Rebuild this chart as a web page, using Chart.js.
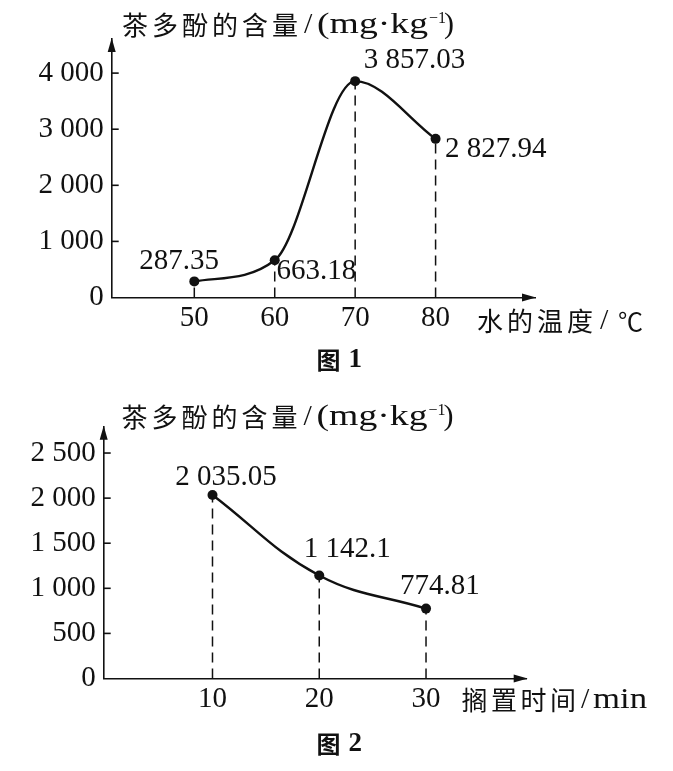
<!DOCTYPE html>
<html>
<head>
<meta charset="utf-8">
<script src="https://cdn.jsdelivr.net/npm/chart.js@4.4.1/dist/chart.umd.min.js"></script>
<style>
html,body{margin:0;padding:0;background:#fff;}
#wrap{position:relative;width:673px;height:771px;overflow:hidden;background:#fff;}
canvas{position:absolute;left:0;}
#c1{top:0;}
#c2{top:385px;}
</style>
</head>
<body>
<div id="wrap">
<canvas id="c1" width="673" height="385"></canvas>
<canvas id="c2" width="673" height="386"></canvas>
</div>
<script>
// ---------- data ----------
const temperatures = [50, 60, 70, 80];
const content1 = [287.35, 663.18, 3857.03, 2827.94];
const times = [10, 20, 30];
const content2 = [2035.05, 1142.1, 774.81];
const yTicks1 = [0, 1000, 2000, 3000, 4000];
const yTicks2 = [0, 500, 1000, 1500, 2000, 2500];
const xTicks1 = [50, 60, 70, 80];
const xTicks2 = [10, 20, 30];
const yTitleCJK = '茶多酚的含量';
const yTitleUnit = '(mg·kg';
const yTitleSup = '−1';
const xTitle1CJK = '水的温度';
const xTitle1Unit = '℃';
const xTitle2CJK = '搁置时间';
const xTitle2Unit = 'min';
const caption1 = ['图', '1'];
const caption2 = ['图', '2'];

// ---------- style ----------
const INK = '#111111';
const SERIF = '"Liberation Serif", "Times New Roman", serif';
const CJK = '"Noto Sans CJK SC", "Noto Sans CJK JP", sans-serif';

function fmt(v) {
  const s = String(v);
  const parts = s.split('.');
  const g = parts[0].replace(/\B(?=(\d{3})+(?!\d))/g, ' ');
  return parts.length > 1 ? g + '.' + parts[1] : g;
}

function drawChars(ctx, text, x, yc, pitch, size, weight) {
  ctx.font = (weight || '') + ' ' + size + 'px ' + CJK;
  ctx.textAlign = 'left';
  ctx.textBaseline = 'middle';
  Array.from(text).forEach((ch, i) => ctx.fillText(ch, x + i * pitch, yc));
}

function drawStretched(ctx, text, x, yc, width, font) {
  ctx.font = font;
  ctx.textAlign = 'left';
  ctx.textBaseline = 'middle';
  const w = ctx.measureText(text).width;
  ctx.save();
  ctx.translate(x, yc);
  ctx.scale(width / w, 1);
  ctx.fillText(text, 0, 0);
  ctx.restore();
}

const decor = {
  id: 'decor',
  beforeDatasetsDraw(chart, args, o) {
    const ctx = chart.ctx, a = chart.chartArea, x = chart.scales.x, y = chart.scales.y;
    ctx.save();
    ctx.strokeStyle = INK;
    ctx.lineWidth = 1.5;
    ctx.setLineDash([10, 6]);
    chart.data.datasets[0].data.forEach(p => {
      const px = x.getPixelForValue(p.x), py = y.getPixelForValue(p.y);
      ctx.beginPath();
      ctx.moveTo(px, a.bottom);
      ctx.lineTo(px, py);
      ctx.stroke();
    });
    ctx.restore();
  },
  afterDraw(chart, args, o) {
    const ctx = chart.ctx, a = chart.chartArea, x = chart.scales.x, y = chart.scales.y;
    ctx.save();
    ctx.fillStyle = INK;
    ctx.strokeStyle = INK;
    // arrow heads
    ctx.beginPath();
    ctx.moveTo(a.left, a.top - 1);
    ctx.lineTo(a.left - 4, a.top + 13);
    ctx.lineTo(a.left + 4, a.top + 13);
    ctx.closePath();
    ctx.fill();
    ctx.beginPath();
    ctx.moveTo(a.right + 1, a.bottom);
    ctx.lineTo(a.right - 13, a.bottom - 4);
    ctx.lineTo(a.right - 13, a.bottom + 4);
    ctx.closePath();
    ctx.fill();
    // inward y ticks
    ctx.lineWidth = 1.6;
    y.ticks.forEach(t => {
      if (t.value === 0) return;
      const py = y.getPixelForValue(t.value);
      ctx.beginPath();
      ctx.moveTo(a.left, py);
      ctx.lineTo(a.left + 7, py);
      ctx.stroke();
    });
    // data labels
    ctx.font = '29px ' + SERIF;
    ctx.textAlign = 'left';
    ctx.textBaseline = 'middle';
    chart.data.datasets[0].data.forEach((p, i) => {
      const off = o.labelOffsets[i];
      ctx.fillText(fmt(p.y), x.getPixelForValue(p.x) + off[0], y.getPixelForValue(p.y) + off[1]);
    });
    // y axis title
    const t = o.yTitle;
    drawChars(ctx, yTitleCJK, t.x, t.y, 30, 26);
    ctx.font = '30px ' + SERIF;
    ctx.fillText('/', t.x + 182, t.y);
    drawStretched(ctx, yTitleUnit, t.x + 195, t.y, 111, '30px ' + SERIF);
    ctx.font = '16px ' + SERIF;
    ctx.fillText(yTitleSup, t.x + 307, t.y - 6);
    ctx.font = '30px ' + SERIF;
    ctx.fillText(')', t.x + 322, t.y);
    // x axis title
    const xt = o.xTitle;
    drawChars(ctx, xt.cjk, xt.x, xt.y, xt.pitch, 26);
    ctx.font = '30px ' + SERIF;
    ctx.fillText('/', xt.x + xt.slash, xt.y);
    if (xt.unitCJK) {
      ctx.font = '25px ' + CJK;
      ctx.fillText(xt.unit, xt.x + xt.unitLeft, xt.y);
    } else {
      drawStretched(ctx, xt.unit, xt.x + xt.unitLeft, xt.y, xt.unitWidth, '29px ' + SERIF);
    }
    // caption
    const c = o.caption;
    drawChars(ctx, c.text[0], c.x, c.y, 0, 24, 'bold');
    ctx.font = 'bold 27px ' + SERIF;
    ctx.fillText(c.text[1], c.x + 32, c.y);
    ctx.restore();
  }
};

function makeChart(canvas, xs, ys, xTicks, yTicks, cfg) {
  const W = canvas.width, H = canvas.height;
  return new Chart(canvas, {
    type: 'line',
    data: {
      datasets: [{
        data: xs.map((v, i) => ({x: v, y: ys[i]})),
        borderColor: INK,
        borderWidth: 2.4,
        pointRadius: 5,
        pointBackgroundColor: INK,
        pointBorderColor: INK,
        pointBorderWidth: 0,
        cubicInterpolationMode: cfg.interp,
        tension: 0.4,
        fill: false,
        clip: false
      }]
    },
    options: {
      responsive: false,
      animation: false,
      events: [],
      layout: {padding: {top: cfg.top, right: W - cfg.right, left: 0, bottom: 0}},
      plugins: {
        legend: {display: false},
        tooltip: {enabled: false},
        title: {display: false},
        decor: cfg.decor
      },
      scales: {
        x: {
          type: 'linear',
          min: cfg.xmin,
          max: cfg.xmax,
          afterFit: s => { s.height = H - cfg.bottom; },
          afterBuildTicks: s => { s.ticks = xTicks.map(v => ({value: v})); },
          grid: {display: false, drawTicks: false},
          border: {display: true, color: INK, width: 1.6},
          ticks: {color: INK, font: {family: SERIF, size: 29}, padding: 3, autoSkip: false, maxRotation: 0,
                  callback: v => fmt(v)}
        },
        y: {
          type: 'linear',
          min: 0,
          max: cfg.ymax,
          afterFit: s => { s.width = cfg.left; },
          afterBuildTicks: s => { s.ticks = yTicks.map(v => ({value: v})); },
          grid: {display: false, drawTicks: false},
          border: {display: true, color: INK, width: 1.6},
          ticks: {color: INK, font: {family: SERIF, size: 29}, padding: 8, autoSkip: false,
                  callback: v => fmt(v)}
        }
      }
    },
    plugins: [decor]
  });
}

makeChart(document.getElementById('c1'), temperatures, content1, xTicks1, yTicks1, {
  left: 111.7, right: 535, top: 39, bottom: 297.5,
  xmin: 39.73, xmax: 92.36, ymax: 4608, interp: 'monotone',
  decor: {
    labelOffsets: [[-55, -20.4], [1.7, 11.5], [8.6, -21], [9.4, 10.6]],
    yTitle: {x: 122, y: 25},
    xTitle: {cjk: xTitle1CJK, x: 477, y: 321, pitch: 30, slash: 123, unit: xTitle1Unit, unitCJK: true, unitLeft: 141},
    caption: {text: caption1, x: 316.5, y: 360}
  }
});

makeChart(document.getElementById('c2'), times, content2, xTicks2, yTicks2, {
  left: 103.7, right: 526.7, top: 41.7, bottom: 293.5,
  xmin: -0.19, xmax: 39.43, ymax: 2792, interp: 'default',
  decor: {
    labelOffsets: [[-37.3, -18], [-15.4, -26], [-26, -22.6]],
    yTitle: {x: 121.5, y: 31.7},
    xTitle: {cjk: xTitle2CJK, x: 461.5, y: 315, pitch: 29.5, slash: 119.5, unit: xTitle2Unit, unitCJK: false, unitLeft: 131.5, unitWidth: 54},
    caption: {text: caption2, x: 316.5, y: 359}
  }
});
</script>
</body>
</html>
